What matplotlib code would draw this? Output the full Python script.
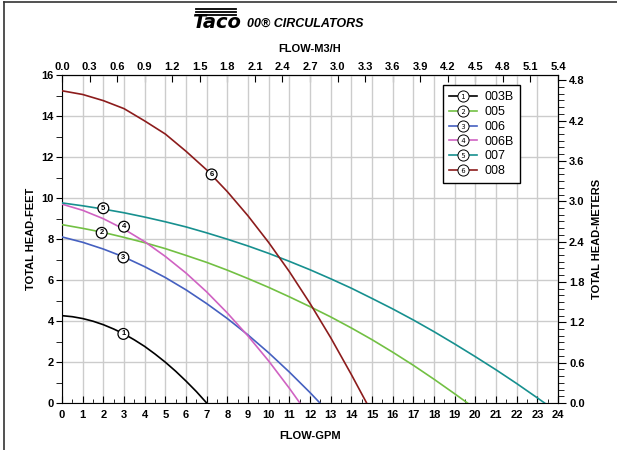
import matplotlib
matplotlib.use("Agg")
import matplotlib.pyplot as plt
import numpy as np
from matplotlib.lines import Line2D
from matplotlib.legend_handler import HandlerTuple
from matplotlib.ticker import MultipleLocator, FormatStrFormatter

plt.rcParams['font.family'] = ['Liberation Sans', 'DejaVu Sans']

# pump curves: flow in GPM, head in feet
flow_003B = [0, 0.5, 1, 1.5, 2, 2.5, 3, 3.5, 4, 4.5, 5, 5.5, 6, 6.5, 7.0]
head_003B = [4.26, 4.21, 4.12, 3.99, 3.82, 3.61, 3.37, 3.08, 2.76, 2.39, 1.99, 1.55, 1.07, 0.56, 0]

flow_005 = [0, 1, 2, 3, 4, 5, 6, 7, 8, 9, 10, 11, 12, 13, 14, 15, 16, 17, 18, 19, 19.62]
head_005 = [8.70, 8.52, 8.32, 8.08, 7.82, 7.53, 7.20, 6.86, 6.48, 6.07, 5.64, 5.18, 4.70,
            4.20, 3.66, 3.09, 2.48, 1.84, 1.16, 0.45, 0]

flow_006 = [0, 1, 2, 3, 4, 5, 6, 7, 8, 9, 10, 11, 12, 12.48]
head_006 = [8.10, 7.84, 7.51, 7.12, 6.65, 6.12, 5.52, 4.85, 4.12, 3.32, 2.45, 1.51, 0.51, 0]

flow_006B = [0, 1, 2, 3, 4, 5, 6, 7, 8, 9, 10, 11, 11.51]
head_006B = [9.70, 9.40, 8.99, 8.48, 7.87, 7.15, 6.34, 5.42, 4.39, 3.27, 2.05, 0.72, 0]

flow_007 = [0, 1, 2, 3, 4, 5, 6, 7, 8, 9, 10, 11, 12, 13, 14, 15, 16, 17, 18, 19, 20,
            21, 22, 23, 23.35]
head_007 = [9.76, 9.62, 9.46, 9.28, 9.07, 8.84, 8.59, 8.30, 7.99, 7.66, 7.30, 6.91, 6.50,
            6.06, 5.60, 5.10, 4.59, 4.05, 3.48, 2.88, 2.26, 1.62, 0.95, 0.25, 0]

flow_008 = [0, 1, 2, 3, 4, 5, 6, 7, 8, 9, 10, 11, 12, 13, 14, 14.74]
head_008 = [15.23, 15.05, 14.75, 14.36, 13.76, 13.12, 12.28, 11.37, 10.31, 9.13, 7.83,
            6.41, 4.86, 3.19, 1.39, 0]

models = ['003B', '005', '006', '006B', '007', '008']
marks = ['1', '2', '3', '4', '5', '6']
colors = ['#000000', '#72c043', '#4560c0', '#d062c2', '#17908f', '#8c1c1c']
flows = [flow_003B, flow_005, flow_006, flow_006B, flow_007, flow_008]
heads = [head_003B, head_005, head_006, head_006B, head_007, head_008]

# where the circled numbers sit on each curve
mark_flow = [2.97, 1.92, 2.97, 3.0, 2.0, 7.24]
mark_head = [3.37, 8.30, 7.10, 8.60, 9.50, 11.15]

fig = plt.figure(figsize=(6.17, 4.5), dpi=100)
ax = fig.add_axes([62/617, 47/450, 496/617, 328/450])

for f, h, c in zip(flows, heads, colors):
    ax.plot(f, h, color=c, lw=1.2, zorder=3)

for mx, my, m in zip(mark_flow, mark_head, marks):
    ax.text(mx, my, m, ha='center', va='center', fontsize=5.5, fontweight='bold', zorder=5,
            bbox=dict(boxstyle='circle,pad=0.25', fc='white', ec='black', lw=0.9))

ax.set_xlim(0, 24)
ax.set_ylim(0, 16)
ax.xaxis.set_major_locator(MultipleLocator(1))
ax.xaxis.set_minor_locator(MultipleLocator(0.5))
ax.yaxis.set_major_locator(MultipleLocator(2))
ax.yaxis.set_minor_locator(MultipleLocator(1))
ax.grid(True, which='major', color='#cccccc', lw=1.0, zorder=0)
ax.tick_params(axis='x', which='both', direction='in', top=False, pad=5)
ax.tick_params(axis='x', which='major', length=5)
ax.tick_params(axis='x', which='minor', length=3)
ax.tick_params(axis='y', which='both', direction='out', right=False, pad=2)
ax.tick_params(axis='y', which='major', length=4)
ax.tick_params(axis='y', which='minor', length=4)
for lab in ax.get_xticklabels() + ax.get_yticklabels():
    lab.set_fontweight('bold')
    lab.set_fontsize(8)

top = ax.secondary_xaxis('top', functions=(lambda g: g * 0.225, lambda m: m / 0.225))
top.xaxis.set_major_locator(MultipleLocator(0.3))
top.xaxis.set_major_formatter(FormatStrFormatter('%.1f'))
top.tick_params(direction='in', length=5, pad=2)
for lab in top.get_xticklabels():
    lab.set_fontweight('bold')
    lab.set_fontsize(8)

right = ax.secondary_yaxis('right', functions=(lambda ft: ft * 0.3048, lambda m: m / 0.3048))
right.yaxis.set_major_locator(MultipleLocator(0.6))
right.yaxis.set_minor_locator(MultipleLocator(0.1))
right.yaxis.set_major_formatter(FormatStrFormatter('%.1f'))
right.tick_params(which='both', direction='out', pad=2)
right.tick_params(which='major', length=6)
right.tick_params(which='minor', length=4)
for lab in right.get_yticklabels():
    lab.set_fontweight('bold')
    lab.set_fontsize(8)

# legend entries: coloured line with a circled number on it
handles = []
for c, m in zip(colors, marks):
    ln = Line2D([], [], color=c, lw=1.2, marker='o', ms=8, mfc='white', mec='black', mew=0.7)
    tx = Line2D([], [], ls='none', marker='$' + m + '$', ms=3.6, color='black', mew=0)
    handles.append((ln, tx))
leg = ax.legend(handles, models, handler_map={tuple: HandlerTuple(ndivide=1)},
                loc='upper left', bbox_to_anchor=(0.756, 0.988), fontsize=9,
                frameon=True, fancybox=False, framealpha=1, edgecolor='black',
                handlelength=2.2, labelspacing=0.22, borderpad=0.5, handletextpad=0.6)
leg.get_frame().set_linewidth(1.0)
leg.set_zorder(6)

fig.text(310/617, 1 - 436/450, 'FLOW-GPM', ha='center', va='center', fontsize=8, fontweight='bold')
fig.text(310/617, 1 - 49/450, 'FLOW-M3/H', ha='center', va='center', fontsize=8, fontweight='bold')
fig.text(31/617, 1 - 239/450, 'TOTAL HEAD-FEET', ha='center', va='center', rotation=90,
         fontsize=8, fontweight='bold')
fig.text(597/617, 1 - 239/450, 'TOTAL HEAD-METERS', ha='center', va='center', rotation=90,
         fontsize=8, fontweight='bold')

# title with a rough Taco logo
fig.text(192/617, 1 - 23/450, 'Taco', ha='left', va='center', fontsize=14, fontweight='heavy',
         fontstyle='italic', family='DejaVu Sans')
for yy in [9, 12, 15]:
    fig.add_artist(Line2D([196/617, 236/617], [1 - yy/450, 1 - yy/450], color='black', lw=1.3))
fig.text(247/617, 1 - 24/450, '00® CIRCULATORS', ha='left', va='center', fontsize=9,
         fontweight='bold', fontstyle='italic')

# frame line along the left and top of the sheet
fig.add_artist(Line2D([4/617, 4/617], [0, 1 - 2/450], color='#333333', lw=1.2))
fig.add_artist(Line2D([4/617, 1], [1 - 2/450, 1 - 2/450], color='#333333', lw=1.2))

fig.savefig('out.png', dpi=100)
